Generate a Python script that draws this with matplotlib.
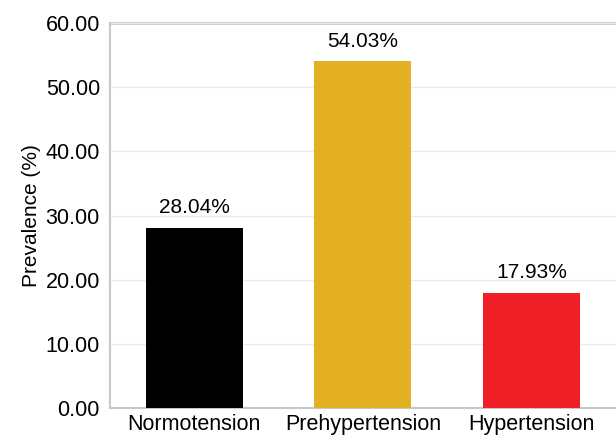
import numpy as np
import matplotlib.pyplot as plt

plt.rcParams['font.family'] = ['Liberation Sans', 'DejaVu Sans']

categories = ['Normotension', 'Prehypertension', 'Hypertension']
prevalence = [28.04, 54.03, 17.93]
bar_colors = ['#000000', '#E3B024', '#EE1F26']

fig = plt.figure(figsize=(6.16, 4.36), dpi=100)
ax = fig.add_axes([0.178, 0.064, 0.822, 0.883])

x = np.arange(len(categories))
bars = ax.bar(x, prevalence, width=0.575, color=bar_colors, zorder=3)
for xi, v in zip(x, prevalence):
    ax.text(xi, v + 1.7, '%.2f%%' % v, ha='center', va='bottom', fontsize=15)

ax.set_xlim(-0.5, 2.5)
ax.set_ylim(0, 60)
ax.set_yticks(np.arange(0, 61, 10))
ax.set_yticklabels(['%.2f' % t for t in np.arange(0, 61, 10)])
ax.set_xticks(x)
ax.set_xticklabels(categories)
ax.tick_params(labelsize=15.5, length=0, pad=7)
ax.tick_params(axis='x', pad=4)
ax.set_ylabel('Prevalence (%)', fontsize=15, labelpad=3)

ax.grid(axis='y', color='#ebebeb', linewidth=1, zorder=0)
ax.axhline(60, color='#c8c8c8', linewidth=2, zorder=1, clip_on=False)
for s in ['top', 'right']:
    ax.spines[s].set_visible(False)
for s in ['left', 'bottom']:
    ax.spines[s].set_color('#c8c8c8')
    ax.spines[s].set_linewidth(1.5)

fig.savefig('out.png', dpi=100)
